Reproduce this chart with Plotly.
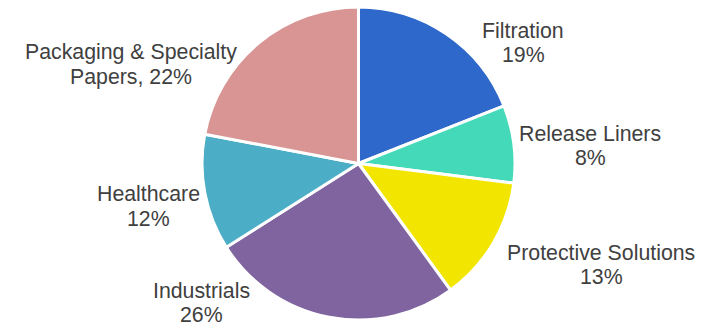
import plotly.graph_objects as go

segments = ["Filtration", "Release Liners", "Protective Solutions", "Industrials",
            "Healthcare", "Packaging & Specialty Papers"]
shares = [19, 8, 13, 26, 12, 22]
colors = ["#2E68CA", "#44D9B8", "#F2E600", "#7F64A0", "#4BADC6", "#D99594"]
label_lines = [["Filtration", "19%"], ["Release Liners", "8%"], ["Protective Solutions", "13%"],
               ["Industrials", "26%"], ["Healthcare", "12%"], ["Packaging & Specialty", "Papers, 22%"]]
# label anchor positions (pixels from top-left of the 705x328 canvas): x centre, first-line y
label_px = [(523, 29.5), (590, 132.5), (601, 251), (201, 289), (148, 192.5), (131, 51)]
LINE_GAP = 24.5

W, H = 705, 328
fig = go.Figure(go.Pie(
    labels=segments, values=shares, sort=False, direction="clockwise", rotation=0,
    marker=dict(colors=colors, line=dict(color="white", width=3)),
    textinfo="none", hoverinfo="label+percent",
    domain=dict(x=[(358.5 - 156.5) / W, (358.5 + 156.5) / W], y=[8 / H, 321 / H]),
    showlegend=False,
))
for lines, (px, py) in zip(label_lines, label_px):
    for i, txt in enumerate(lines):
        fig.add_annotation(x=px / W, y=1 - (py + 1.5 + i * LINE_GAP) / H, xref="paper", yref="paper",
                           text=txt, showarrow=False, xanchor="center", yanchor="middle",
                           font=dict(family="Liberation Sans, Arial, sans-serif", size=21.3, color="#404040"))
fig.update_layout(width=W, height=H, margin=dict(l=0, r=0, t=0, b=0),
                  paper_bgcolor="white", plot_bgcolor="white")
fig.write_html("out.html", config={"displayModeBar": False},
               post_script="document.body.style.margin='0';")
